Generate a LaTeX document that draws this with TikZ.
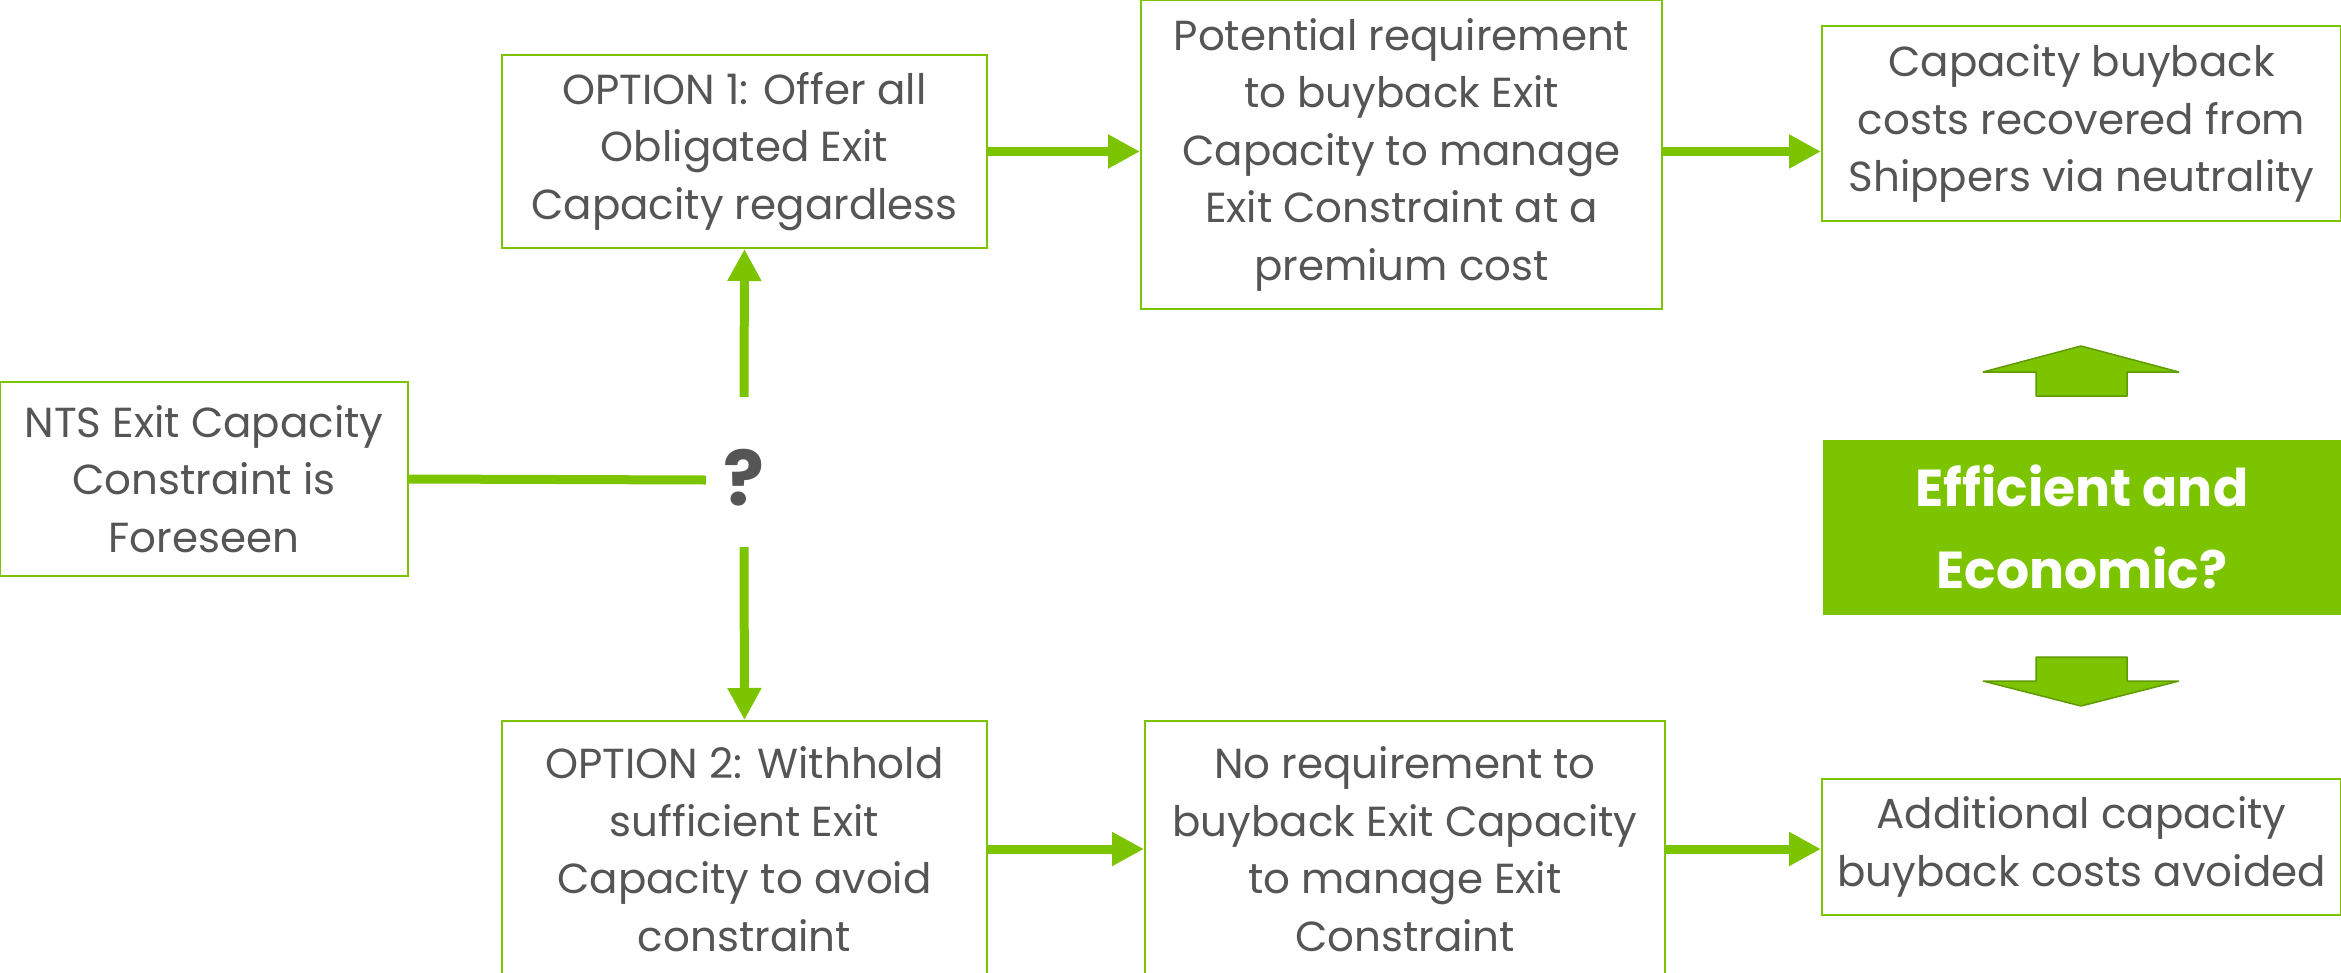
\documentclass[tikz,border=0pt]{standalone}
\usepackage{fontspec}
\setmainfont{Poppins}
\usetikzlibrary{arrows.meta}
\definecolor{lime}{HTML}{7DC400}
\definecolor{limedark}{HTML}{5E9A00}
\definecolor{txt}{HTML}{555555}
\begin{document}
\begin{tikzpicture}[x=1pt,y=-1pt,
  box/.style={draw=lime, line width=2pt, fill=white, text=txt, align=center,
    font=\fontsize{42}{57.5}\selectfont, inner sep=0pt},
  conn/.style={draw=lime, line width=9pt},
  arr/.style={conn, -{Triangle[length=32pt,width=32pt]}},
  blockarrow/.style={fill=lime, draw=limedark, line width=1.5pt, line join=bevel},
]
\useasboundingbox (0,0) rectangle (2341,972);

\node[box, minimum width=408pt, minimum height=194pt] (nts) at (204,479)
  {NTS Exit Capacity\\Constraint is\\Foreseen};
\node[box, minimum width=485pt, minimum height=193pt] (opt1) at (744.5,151.5)
  {OPTION 1: Offer all\\Obligated Exit\\Capacity regardless};
\node[box, minimum width=485pt, minimum height=256pt] (opt2) at (744.5,849)
  {OPTION 2: Withhold\\sufficient Exit\\Capacity to avoid\\constraint};
\node[box, minimum width=521pt, minimum height=309pt] (pot) at (1401.5,154.5)
  {Potential requirement\\to buyback Exit\\Capacity to manage\\Exit Constraint at a\\premium cost};
\node[box, minimum width=520pt, minimum height=256pt] (noreq) at (1405,849)
  {No requirement to\\buyback Exit Capacity\\to manage Exit\\Constraint};
\node[box, minimum width=519pt, minimum height=195pt] (cap) at (2081.5,123.5)
  {Capacity buyback\\costs recovered from\\Shippers via neutrality};
\node[box, minimum width=519pt, minimum height=136pt] (add) at (2081.5,847)
  {Additional capacity\\buyback costs avoided};
\node[fill=lime, text=white, align=center, inner sep=0pt,
  font=\fontsize{52}{82}\selectfont\bfseries,
  minimum width=518pt, minimum height=175pt] (eff) at (2082,527)
  {Efficient and\\Economic?};

\node[text=txt, font=\fontsize{76}{76}\selectfont\bfseries, inner sep=0pt] (q) at (744,478) {?};
\coordinate (qw) at (706,480);
\coordinate (qn) at (744,397);
\coordinate (qs) at (744,547);

\draw[conn] (nts.east) -- (qw);
\draw[arr] (qn) -- (opt1.south);
\draw[arr] (qs) -- (opt2.north);
\draw[arr] (opt1.east) -- (opt1.east -| pot.west);
\draw[arr] (pot.east |- opt1.east) -- (cap.west |- opt1.east);
\draw[arr] (opt2.east) -- (opt2.east -| noreq.west);
\draw[arr] (noreq.east) -- (noreq.east -| add.west);

\path[blockarrow] (2081,346) -- (2179,372) -- (2127,372) -- (2127,396)
  -- (2036,396) -- (2036,372) -- (1983,372) -- cycle;
\path[blockarrow] (2081,706) -- (2179,681) -- (2127,681) -- (2127,657)
  -- (2036,657) -- (2036,681) -- (1983,681) -- cycle;
\end{tikzpicture}
\end{document}
